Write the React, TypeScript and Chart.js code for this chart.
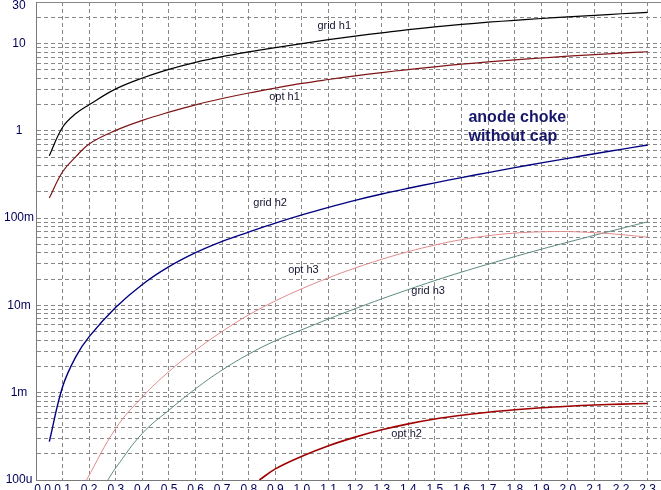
import React, { useEffect, useRef } from 'react';
import { Chart, registerables } from 'chart.js';

Chart.register(...registerables);

const FONT = '"Liberation Sans", Arial, sans-serif';

// ---- axis ticks ----
const X_TICKS = [0, 0.1, 0.2, 0.3, 0.4, 0.5, 0.6, 0.7, 0.8, 0.9, 1.0, 1.1, 1.2, 1.3, 1.4, 1.5, 1.6, 1.7, 1.8, 1.9, 2.0, 2.1, 2.2, 2.3];
const X_MIN = 0;
const X_MAX = 2.35;
const Y_MIN = 1e-4;
const Y_MAX = 30;
const Y_DECADES = [1e-4, 1e-3, 1e-2, 1e-1, 1];
const Y_STEPS = [1, 2, 3, 4, 5, 6, 7, 8, 9];
const Y_TOP_TICKS = [10, 20, 30];
const Y_LABEL_VALUES = [1e-4, 1e-3, 1e-2, 1e-1, 1, 10, 30];
const Y_LABEL_TEXT = ['100u', '1m', '10m', '100m', '1', '10', '30'];

// ---- series data ----
const X_MAIN = [0.05, 0.1, 0.15, 0.2, 0.3, 0.4, 0.5, 0.6, 0.7, 0.8, 0.9, 1.0, 1.1, 1.2, 1.3, 1.4, 1.5, 1.6, 1.7, 1.8, 1.9, 2.0, 2.1, 2.2, 2.3];
const GRID_H1 = [0.52, 1.10, 1.58, 2.0, 3.03, 4.04, 5.08, 6.11, 7.10, 8.05, 9.02, 10.0, 11.1, 12.2, 13.3, 14.5, 15.6, 16.6, 17.6, 18.5, 19.4, 20.3, 21.1, 22.0, 22.8];
const OPT_H1 = [0.17, 0.34, 0.507, 0.71, 1.014, 1.32, 1.64, 1.99, 2.35, 2.72, 3.10, 3.50, 3.88, 4.27, 4.66, 5.05, 5.43, 5.81, 6.17, 6.52, 6.85, 7.18, 7.48, 7.78, 8.07];
const GRID_H2 = [2.75e-4, 1.17e-3, 2.59e-3, 4.39e-3, 9.53e-3, 0.0174, 0.0278, 0.0402, 0.0542, 0.0693, 0.0877, 0.109, 0.133, 0.160, 0.189, 0.220, 0.254, 0.292, 0.333, 0.379, 0.430, 0.485, 0.547, 0.615, 0.690];

const X_OPT_H3 = [0.19, 0.3, 0.4, 0.5, 0.6, 0.7, 0.8, 0.9, 1.0, 1.1, 1.2, 1.3, 1.4, 1.5, 1.6, 1.7, 1.8, 1.9, 2.0, 2.1, 2.2, 2.3];
const OPT_H3 = [1e-4, 3.91e-4, 8.95e-4, 1.75e-3, 3.07e-3, 5.04e-3, 7.80e-3, 0.01127, 0.01556, 0.02075, 0.02685, 0.0338, 0.0414, 0.0492, 0.0568, 0.0630, 0.0675, 0.0698, 0.0702, 0.0682, 0.0649, 0.0605];

const X_GRID_H3 = [0.27, 0.3, 0.4, 0.5, 0.6, 0.7, 0.8, 0.9, 1.0, 1.1, 1.2, 1.3, 1.4, 1.5, 1.6, 1.7, 1.8, 1.9, 2.0, 2.1, 2.2, 2.3];
const GRID_H3 = [1e-4, 1.38e-4, 3.43e-4, 6.31e-4, 1.11e-3, 1.82e-3, 2.77e-3, 3.94e-3, 5.27e-3, 7.0e-3, 9.18e-3, 0.01189, 0.01521, 0.01928, 0.0241, 0.0297, 0.0363, 0.0441, 0.0531, 0.0637, 0.0762, 0.0910];

const X_OPT_H2 = [0.84, 0.9, 1.0, 1.1, 1.2, 1.3, 1.4, 1.5, 1.6, 1.7, 1.8, 1.9, 2.0, 2.1, 2.2, 2.3];
const OPT_H2 = [1e-4, 1.34e-4, 1.87e-4, 2.47e-4, 3.10e-4, 3.76e-4, 4.40e-4, 5.0e-4, 5.52e-4, 5.98e-4, 6.38e-4, 6.73e-4, 7.01e-4, 7.24e-4, 7.41e-4, 7.53e-4];

// ---- curve labels (anchored in data space) ----
const CURVE_LABELS = ['grid h1', 'opt h1', 'grid h2', 'opt h3', 'grid h3', 'opt h2'];
const CURVE_LABEL_X = [1.058, 0.877, 0.817, 0.948, 1.411, 1.336];
const CURVE_LABEL_Y = [15.9, 2.44, 0.15, 0.0255, 0.0146, 3.33e-4];
const NOTE_LINES = ['anode choke', 'without cap'];
const NOTE_X = 1.626;
const NOTE_Y = 1.43;

const GRID_COLOR = '#888888';
const AXIS_COLOR = '#7a7a7a';
const TICK_COLOR = '#00005a';

const Y_TICKS = [
  ...Y_DECADES.flatMap((d) => Y_STEPS.map((s) => +(s * d).toPrecision(3))),
  ...Y_TOP_TICKS,
];

const toPoints = (xs: number[], ys: number[]) => xs.map((x, i) => ({ x, y: ys[i] }));

const near = (a: number, b: number) => Math.abs(a - b) / Math.abs(b) < 1e-6;

const labelsPlugin = {
  id: 'curveLabels',
  afterDatasetsDraw(chart: any) {
    const { ctx, scales } = chart;
    const xs = scales.x;
    const ys = scales.y;
    ctx.save();
    ctx.textBaseline = 'middle';
    ctx.textAlign = 'left';
    ctx.font = `11px ${FONT}`;
    ctx.fillStyle = '#141430';
    CURVE_LABELS.forEach((t, i) => {
      ctx.fillText(t, xs.getPixelForValue(CURVE_LABEL_X[i]), ys.getPixelForValue(CURVE_LABEL_Y[i]));
    });
    ctx.font = `bold 16px ${FONT}`;
    ctx.fillStyle = '#16166a';
    const nx = xs.getPixelForValue(NOTE_X);
    const ny = ys.getPixelForValue(NOTE_Y);
    NOTE_LINES.forEach((t, i) => ctx.fillText(t, nx, ny + i * 19));
    ctx.restore();
  },
};

export default function App() {
  const ref = useRef<HTMLCanvasElement>(null);

  useEffect(() => {
    document.body.style.margin = '0';
    const line = (data: any, color: string, width: number) => ({
      data,
      borderColor: color,
      backgroundColor: color,
      borderWidth: width,
      pointRadius: 0,
      fill: false,
      tension: 0.4,
    });
    const chart = new Chart(ref.current as HTMLCanvasElement, {
      type: 'line',
      data: {
        datasets: [
          line(toPoints(X_MAIN, GRID_H1), '#000000', 1.2),
          line(toPoints(X_MAIN, OPT_H1), '#7e1414', 1.2),
          line(toPoints(X_MAIN, GRID_H2), '#000080', 1.4),
          line(toPoints(X_OPT_H3, OPT_H3), '#e08a8a', 1),
          line(toPoints(X_GRID_H3, GRID_H3), '#5c8a82', 1),
          line(toPoints(X_OPT_H2, OPT_H2), '#a00000', 1.6),
        ],
      },
      options: {
        animation: false,
        responsive: false,
        devicePixelRatio: 1,
        layout: { padding: { top: 2, left: 0, right: 0, bottom: 0 } },
        plugins: {
          legend: { display: false },
          tooltip: { enabled: false },
        },
        scales: {
          x: {
            type: 'linear',
            min: X_MIN,
            max: X_MAX,
            afterBuildTicks: (s: any) => {
              s.ticks = X_TICKS.map((v) => ({ value: v }));
            },
            afterFit: (s: any) => {
              s.height = 20;
              s.paddingLeft = 0;
              s.paddingRight = 0;
            },
            grid: { color: GRID_COLOR, lineWidth: 1, drawTicks: false },
            border: { display: true, color: AXIS_COLOR, width: 1, dash: [4, 3] },
            ticks: {
              autoSkip: false,
              maxRotation: 0,
              padding: 2,
              color: TICK_COLOR,
              font: { family: FONT, size: 12 },
              callback: (v: any) => (Number(v) === 0 ? '    0.0' : Number(v).toFixed(1)),
            },
          },
          y: {
            type: 'logarithmic',
            min: Y_MIN,
            max: Y_MAX,
            afterBuildTicks: (s: any) => {
              s.ticks = Y_TICKS.map((v) => ({ value: v }));
            },
            afterFit: (s: any) => {
              s.width = 36;
              s.paddingTop = 0;
              s.paddingBottom = 0;
            },
            grid: { color: GRID_COLOR, lineWidth: 1, drawTicks: false },
            border: {
              display: true,
              color: AXIS_COLOR,
              width: 1,
              dash: (c: any) => (c.tick && near(c.tick.value, Y_MAX) ? [] : [4, 3]),
            },
            ticks: {
              autoSkip: false,
              padding: 2,
              crossAlign: 'center',
              color: TICK_COLOR,
              font: (c: any) => ({
                family: FONT,
                size: 12,
                lineHeight: c.tick && near(c.tick.value, Y_MAX) ? 0.67 : 1.2,
              }),
              callback: (v: any) => {
                const i = Y_LABEL_VALUES.findIndex((lv) => near(Number(v), lv));
                if (i < 0) return '';
                if (near(Number(v), Y_MAX)) return ['', Y_LABEL_TEXT[i]];
                return Y_LABEL_TEXT[i];
              },
            },
          },
        },
      },
      plugins: [labelsPlugin],
    } as any);
    return () => chart.destroy();
  }, []);

  return (
    <div
      style={{
        position: 'absolute',
        left: 0,
        top: 0,
        width: 661,
        height: 490,
        overflow: 'hidden',
        background: '#ffffff',
      }}
    >
      <canvas ref={ref} width={661} height={500} style={{ display: 'block' }} />
    </div>
  );
}
